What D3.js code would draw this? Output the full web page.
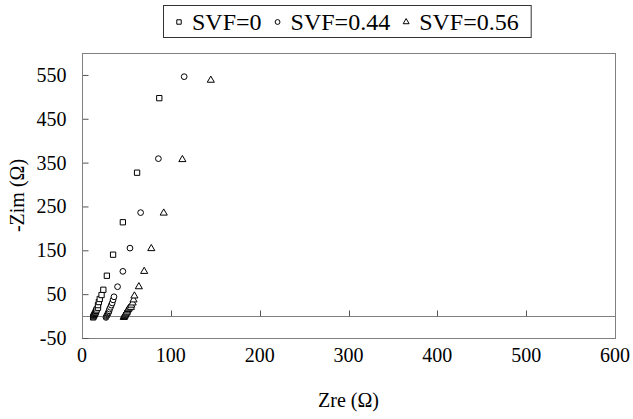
<!DOCTYPE html>
<html>
<head>
<meta charset="utf-8">
<script src="https://cdn.jsdelivr.net/npm/d3@7"></script>
<style>
body { margin: 0; background: #fff; }
text { font-family: "Liberation Serif", "Times New Roman", serif; fill: #000; }
</style>
</head>
<body>
<div class="container"></div>
<script>
var w = 633;
var h = 419;

// data: [Zre, -Zim]
var svf0 = [[12.5,-3],[13,-1],[13.5,1],[14,3],[14.5,5],[15,7],[15.5,9],[16,12],[16.5,15],[18,19],[18,25],[19,32],[20,39],[22,48],[24,60],[28,92],[35,140],[46,214],[62,327],[87,497]];
var svf044 = [[27,-3],[27.5,-1],[28,1],[28.5,3],[29,5],[29.5,7],[30,9],[30.5,12],[31,16],[32,20],[33,25],[34,30],[35,37],[36,44],[40,67],[46,102],[54,155],[66,236],[86,359],[115,546]];
var svf056 = [[47,-3],[47.5,-1],[48,1],[48.5,3],[49,5],[50,7],[50.5,9],[51,12],[52,15],[53,18],[55,20],[55.5,25],[57,30],[58,37],[59,46],[64,67],[70,102],[78,154],[92,235],[113,357],[145,538]];
var seriesNames = ["SVF=0", "SVF=0.44", "SVF=0.56"];
var xTicks = [0, 100, 200, 300, 400, 500, 600];
var yTicks = [-50, 50, 150, 250, 350, 450, 550];

var pLeft = 82, pTop = 53, pRight = 615, pBottom = 338;

var svg = d3.select('.container')
    .append('svg')
    .attr('width', w)
    .attr('height', h);

var xScale = d3.scaleLinear().domain([0, 600]).range([pLeft, pRight]);
var yScale = d3.scaleLinear().domain([-50, 600]).range([pBottom, pTop]);

// plot area border
svg.append('rect')
  .attr('x', pLeft + 0.5).attr('y', pTop + 0.5)
  .attr('width', pRight - pLeft).attr('height', pBottom - pTop)
  .style('fill', 'none').style('stroke', '#808080');

// zero line (x axis crosses here)
var y0 = Math.round(yScale(0)) + 0.5;
svg.append('line')
  .attr('x1', pLeft).attr('x2', pRight)
  .attr('y1', y0).attr('y2', y0)
  .style('stroke', '#808080');

// x ticks on the zero line
svg.selectAll('.xtick')
  .data(xTicks.slice(1, -1))
  .enter().append('line')
  .attr('class', 'xtick')
  .attr('x1', d => Math.round(xScale(d)) + 0.5).attr('x2', d => Math.round(xScale(d)) + 0.5)
  .attr('y1', y0).attr('y2', y0 - 6)
  .style('stroke', '#555');

svg.selectAll('.xlab')
  .data(xTicks)
  .enter().append('text')
  .attr('class', 'xlab')
  .attr('x', d => xScale(d))
  .attr('y', 362)
  .attr('text-anchor', 'middle')
  .style('font-size', '20px')
  .text(d => d);

// y axis (plain hyphen for negatives, like the original)
var yAxis = d3.axisLeft(yScale).tickValues(yTicks).tickSize(-6).tickPadding(16)
  .tickFormat(d => String(d));
var yg = svg.append('g')
  .attr('transform', 'translate(' + (pLeft + 0.5) + ',0)')
  .call(yAxis);
yg.select('.domain').remove();
yg.selectAll('.tick line').attr('stroke', '#555');
yg.selectAll('.tick text').style('font-size', '20px').attr('fill', '#000')
  .attr('font-family', '"Liberation Serif", serif');

svg.append('line')
  .attr('x1', pLeft + 0.5).attr('x2', pLeft + 0.5)
  .attr('y1', pTop).attr('y2', pBottom)
  .style('stroke', '#808080');

// axis titles
svg.append('text')
  .attr('x', xScale(300))
  .attr('y', 407)
  .attr('text-anchor', 'middle')
  .style('font-size', '20px')
  .text('Zre (\u03A9)');

svg.append('text')
  .attr('transform', 'translate(24,' + ((pTop + pBottom) / 2) + ') rotate(-90)')
  .attr('text-anchor', 'middle')
  .style('font-size', '20px')
  .text('-Zim (\u03A9)');

// markers
var shapes = [d3.symbolSquare, d3.symbolCircle, d3.symbolTriangle];
var sizes = [28, 26, 22];
var allSeries = [svf0, svf044, svf056];

allSeries.forEach(function(data, k) {
  var sym = d3.symbol().type(shapes[k]).size(sizes[k]);
  svg.append('g').selectAll('path')
    .data(data)
    .enter().append('path')
    .attr('d', sym)
    .attr('transform', d => 'translate(' + xScale(d[0]) + ',' + yScale(d[1]) + ')')
    .style('fill', 'white')
    .style('stroke', 'black')
    .style('stroke-width', 1);
});

// legend
var legend = svg.append('g').attr('id', 'legend');
var box = legend.append('rect')
  .attr('x', 163.5).attr('y', 5.5)
  .attr('height', 32)
  .style('fill', 'white').style('stroke', '#333');

var legX = 179;
seriesNames.forEach(function(name, k) {
  legend.append('path')
    .attr('d', d3.symbol().type(shapes[k]).size(sizes[k] * 0.7))
    .attr('transform', 'translate(' + legX + ',22)')
    .style('fill', 'white').style('stroke', 'black');
  var t = legend.append('text')
    .attr('x', legX + 13)
    .attr('y', 30)
    .style('font-size', '24px')
    .text(name);
  legX = legX + 13 + t.node().getComputedTextLength() + 16;
});
box.attr('width', legX - 16 + 12 - 163);
</script>
</body>
</html>
